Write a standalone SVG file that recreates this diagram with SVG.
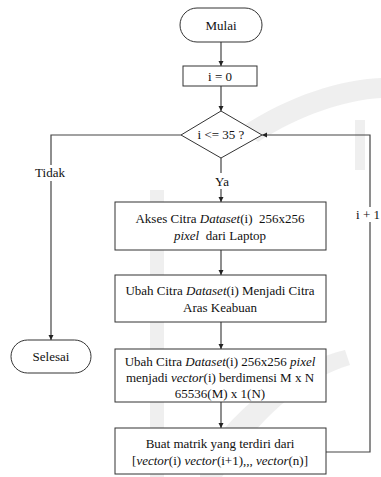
<svg xmlns="http://www.w3.org/2000/svg" width="381" height="477" viewBox="0 0 381 477">
  <defs>
    <marker id="arrow" markerWidth="6" markerHeight="6" refX="5" refY="3" orient="auto" markerUnits="userSpaceOnUse">
      <path d="M0,0.5 L5,3 L0,5.5 Z" fill="#222"/>
    </marker>
    <style>
      .shape { fill: #fff; stroke: #333; stroke-width: 1; }
      .wire { fill: none; stroke: #444; stroke-width: 1.2; }
      .lbl { font-family: "Liberation Serif", "Times New Roman", serif; font-size: 13px; fill: #111; text-anchor: middle; }
      .mark { fill: #e9e9e9; }
    </style>
  </defs>

  <rect width="381" height="477" fill="#fff"/>

  <!-- faint background emblem -->
  <g id="emblem" opacity="0.7">
    <path class="mark" d="M240,128 C290,95 340,80 381,78 L381,98 C345,100 300,115 258,142 Z"/>
    <rect class="mark" x="150" y="190" width="14" height="287"/>
    <rect class="mark" x="355" y="120" width="10" height="50"/>
    <path class="mark" d="M200,460 C240,400 300,360 345,350 L350,365 C305,378 255,420 222,477 L200,477 Z"/>
  </g>

  <!-- connectors -->
  <g id="connectors">
    <line class="wire" x1="221" y1="42" x2="221" y2="66" marker-end="url(#arrow)"/>
    <line class="wire" x1="221" y1="86" x2="221" y2="111" marker-end="url(#arrow)"/>
    <line class="wire" x1="221" y1="158" x2="221" y2="173"/>
    <line class="wire" x1="221" y1="189" x2="221" y2="202" marker-end="url(#arrow)"/>
    <text class="lbl" x="222" y="186">Ya</text>
    <polyline class="wire" points="181,135 51,135 51,165"/>
    <line class="wire" x1="51" y1="181" x2="51" y2="340" marker-end="url(#arrow)"/>
    <text class="lbl" x="50" y="177">Tidak</text>
    <line class="wire" x1="221" y1="250" x2="221" y2="275" marker-end="url(#arrow)"/>
    <line class="wire" x1="221" y1="322" x2="221" y2="349" marker-end="url(#arrow)"/>
    <line class="wire" x1="221" y1="402" x2="221" y2="428" marker-end="url(#arrow)"/>
    <polyline class="wire" points="326,452 370,452 370,222"/>
    <polyline class="wire" points="370,207 370,135 262,135" marker-end="url(#arrow)"/>
    <text class="lbl" x="368" y="219">i + 1</text>
  </g>

  <g id="mulai">
    <rect class="shape" x="180" y="8" width="82" height="34" rx="17"/>
    <text class="lbl" x="221" y="30">Mulai</text>
  </g>

  <g id="init">
    <rect class="shape" x="183" y="66" width="74" height="20"/>
    <text class="lbl" x="220" y="81">i = 0</text>
  </g>

  <g id="check">
    <polygon class="shape" points="221,111 262,135 221,158 181,135"/>
    <text class="lbl" x="221" y="139">i &lt;= 35 ?</text>
  </g>

  <g id="akses">
    <rect class="shape" x="115" y="202" width="211" height="48"/>
    <text class="lbl" x="220" y="223">Akses Citra <tspan font-style="italic">Dataset</tspan>(i)&#160; 256x256</text>
    <text class="lbl" x="220" y="240"><tspan font-style="italic">pixel</tspan>&#160; dari Laptop</text>
  </g>

  <g id="keabuan">
    <rect class="shape" x="115" y="275" width="211" height="47"/>
    <text class="lbl" x="220" y="295">Ubah Citra <tspan font-style="italic">Dataset</tspan>(i) Menjadi Citra</text>
    <text class="lbl" x="220" y="312">Aras Keabuan</text>
  </g>

  <g id="vektor">
    <rect class="shape" x="115" y="349" width="211" height="53"/>
    <text class="lbl" x="220" y="366">Ubah Citra <tspan font-style="italic">Dataset</tspan>(i) 256x256 <tspan font-style="italic">pixel</tspan></text>
    <text class="lbl" x="220" y="382">menjadi <tspan font-style="italic">vector</tspan>(i) berdimensi M x N</text>
    <text class="lbl" x="220" y="398">65536(M) x 1(N)</text>
  </g>

  <g id="matrik">
    <rect class="shape" x="115" y="428" width="211" height="46"/>
    <text class="lbl" x="220" y="448">Buat matrik yang terdiri dari</text>
    <text class="lbl" x="220" y="465">[<tspan font-style="italic">vector</tspan>(i) <tspan font-style="italic">vector</tspan>(i+1),,, <tspan font-style="italic">vector</tspan>(n)]</text>
  </g>

  <g id="selesai">
    <rect class="shape" x="11" y="340" width="80" height="33" rx="16.5"/>
    <text class="lbl" x="51" y="361">Selesai</text>
  </g>
</svg>
